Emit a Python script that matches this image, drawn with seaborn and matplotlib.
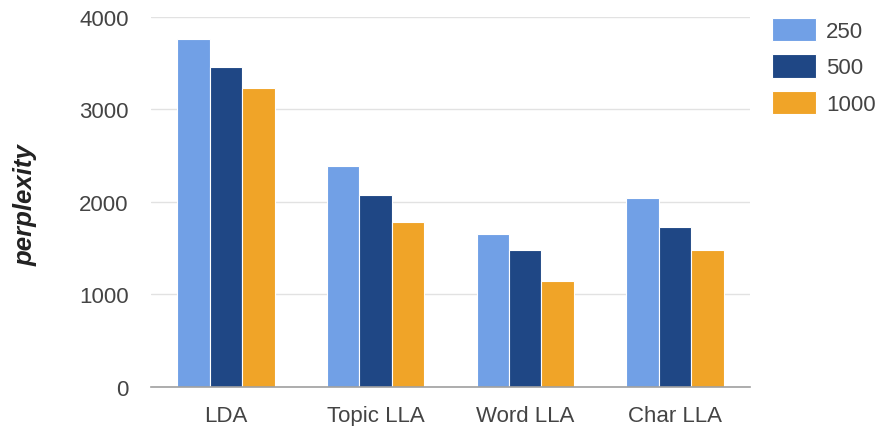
import matplotlib
matplotlib.use("Agg")
import matplotlib.pyplot as plt
import seaborn as sns
import pandas as pd

# Perplexity per model for three training sizes
models = ["LDA", "Topic LLA", "Word LLA", "Char LLA"]
sizes = ["250", "500", "1000"]
perp_250 = [3760, 2390, 1655, 2040]
perp_500 = [3460, 2080, 1480, 1725]
perp_1000 = [3230, 1780, 1145, 1480]
colors = ["#71a0e6", "#1f4785", "#f0a428"]

rows = []
for size, vals in zip(sizes, [perp_250, perp_500, perp_1000]):
    for m, v in zip(models, vals):
        rows.append({"model": m, "size": size, "perplexity": v})
df = pd.DataFrame(rows)

sns.set_style("white")
plt.rcParams["font.family"] = ["Liberation Sans", "DejaVu Sans"]

fig = plt.figure(figsize=(8.78, 4.27), dpi=100)
ax = fig.add_axes([0.172, 0.0913, 0.682, 0.867])

sns.barplot(data=df, x="model", y="perplexity", hue="size", order=models,
            hue_order=sizes, palette=colors, saturation=1, width=0.65,
            edgecolor="white", linewidth=0.8, ax=ax, errorbar=None)

ax.set_ylim(0, 4000)
ax.set_xlim(-0.5, 3.5)
ax.set_yticks([0, 1000, 2000, 3000, 4000])
ax.yaxis.grid(True, color="#e2e2e2", linewidth=1)
ax.set_axisbelow(True)
for side in ["top", "right", "left"]:
    ax.spines[side].set_visible(False)
ax.spines["bottom"].set_color("#a0a0a0")
ax.spines["bottom"].set_linewidth(1.2)
ax.tick_params(axis="both", length=0, labelsize=16, colors="#444444")
ax.tick_params(axis="y", pad=16)
ax.tick_params(axis="x", pad=13)
ax.set_xlabel("")
ax.set_ylabel("")
fig.text(0.029, 0.52, "perplexity", rotation=90, ha="center", va="center",
         fontsize=18.5, fontweight="bold", fontstyle="italic", color="#222222")

handles, labels = ax.get_legend_handles_labels()
ax.legend(handles, labels, loc="upper left", bbox_to_anchor=(0.879, 0.956),
          bbox_transform=fig.transFigure, frameon=False, fontsize=16,
          handlelength=2.0, handleheight=1.25, labelspacing=0.55,
          handletextpad=0.45, borderpad=0, borderaxespad=0,
          labelcolor="#444444")

fig.savefig("out.png", dpi=100)
